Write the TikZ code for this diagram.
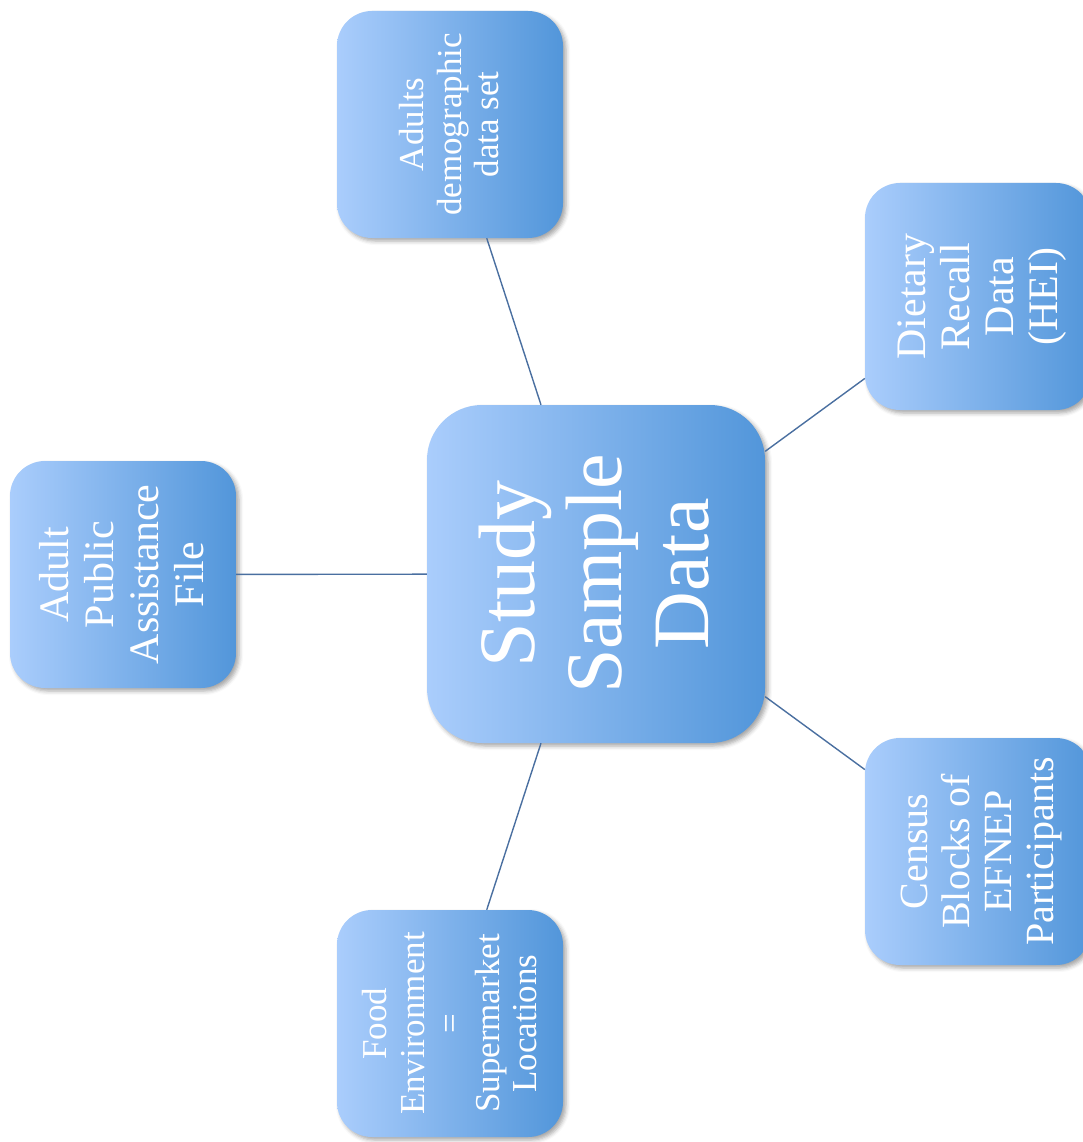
\documentclass[tikz,border=0pt]{standalone}
\usepackage{fontspec}
\setmainfont{Liberation Serif}
\usetikzlibrary{shadows.blur}
\definecolor{gradL}{RGB}{170,205,252}
\definecolor{gradR}{RGB}{82,150,218}
\definecolor{connC}{RGB}{74,111,160}
\newsavebox{\rtbox}
\newcommand{\rottext}[4]{\sbox{\rtbox}{\fontsize{#1}{#2}\selectfont\begin{tabular}{@{}c@{}}#4\end{tabular}}\rotatebox{90}{\raisebox{-#3}[\ht\rtbox][\dp\rtbox]{\usebox{\rtbox}}}}
\begin{document}
\begin{tikzpicture}[x=1pt,y=1pt,
  boxbase/.style={inner sep=0pt, text=white, left color=gradL, right color=gradR,
    blur shadow={shadow xshift=3pt, shadow yshift=-3pt, shadow blur radius=4pt, shadow opacity=35}},
  smallbox/.style={boxbase, minimum width=226pt, minimum height=227pt, rounded corners=35pt},
  bigbox/.style={boxbase, minimum width=338pt, minimum height=338pt, rounded corners=55pt},
  conn/.style={draw=connC, line width=1.4pt}]
\useasboundingbox (0,0) rectangle (1083,-1142);
\clip (0,0) rectangle (1083,-1142);
\node[bigbox] (c) at (596,-574) {\rottext{80}{87}{8pt}{Study\\Sample\\Data}};
\node[smallbox] (a) at (450,-124.5) {\rottext{35}{37.5}{3.5pt}{Adults\\demographic\\data set}};
\node[smallbox] (d) at (978,-296.5) {\rottext{42}{44}{4.5pt}{Dietary\\Recall\\Data\\(HEI)}};
\node[smallbox] (p) at (123,-574.5) {\rottext{42}{45}{3.5pt}{Adult\\Public\\Assistance\\File}};
\node[smallbox] (f) at (450,-1023.5) {\rottext{35}{37.5}{4pt}{Food\\Environment\\=\\Supermarket\\Locations}};
\node[smallbox] (k) at (978,-851.5) {\rottext{40}{42}{4pt}{Census\\Blocks of\\EFNEP\\Participants}};
\draw[conn] (c) -- (a);
\draw[conn] (c) -- (d);
\draw[conn] (c) -- (p);
\draw[conn] (c) -- (f);
\draw[conn] (c) -- (k);
\end{tikzpicture}
\end{document}
